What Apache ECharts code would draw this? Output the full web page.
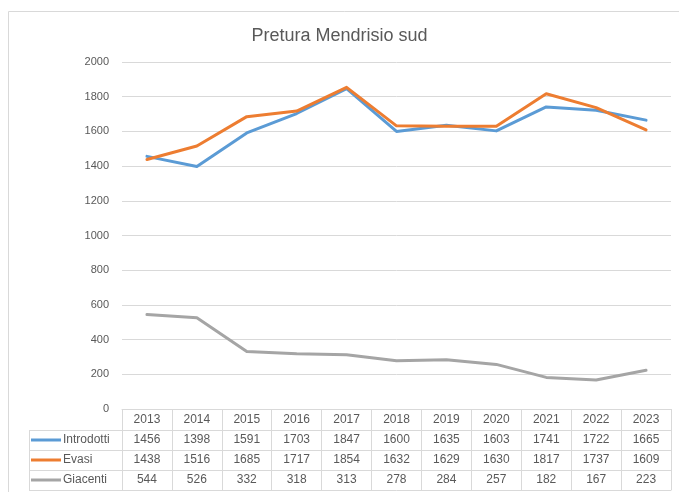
<!DOCTYPE html>
<html>
<head>
<meta charset="utf-8">
<script src="https://cdn.jsdelivr.net/npm/echarts@6/dist/echarts.min.js"></script>
<style>
html,body{margin:0;padding:0;background:#fff;}
#chart{width:679px;height:492px;}
</style>
</head>
<body>
<div id="chart"></div>
<script>
const title = 'Pretura Mendrisio sud';
const years = ['2013','2014','2015','2016','2017','2018','2019','2020','2021','2022','2023'];
const introdotti = [1456,1398,1591,1703,1847,1600,1635,1603,1741,1722,1665];
const evasi = [1438,1516,1685,1717,1854,1632,1629,1630,1817,1737,1609];
const giacenti = [544,526,332,318,313,278,284,257,182,167,223];
const seriesNames = ['Introdotti','Evasi','Giacenti'];
const colors = ['#5B9BD5','#ED7D31','#A5A5A5'];

const FONT = '"Liberation Sans", Arial, sans-serif';
const TXT = '#595959';
const LINE = '#d9d9d9';

const chart = echarts.init(document.getElementById('chart'));
const values = [introdotti, evasi, giacenti];

function rowAxis(offset){
  return {
    type:'category', gridIndex:0, position:'bottom', offset:offset,
    data: years, boundaryGap:true,
    axisLine:{show:true, lineStyle:{color:LINE, width:1}},
    axisTick:{show:false}, axisLabel:{show:false}, splitLine:{show:false}
  };
}

chart.setOption({
  animation:false,
  color: colors,
  textStyle:{fontFamily:FONT},
  title:{
    text:title, left:'center', top:22,
    textStyle:{fontFamily:FONT, fontSize:18, fontWeight:'normal', color:TXT}
  },
  legend:{
    orient:'vertical', left:31, top:430, padding:0, itemGap:0,
    icon:'rect', itemWidth:30, itemHeight:3,
    selectedMode:false,
    textStyle:{fontFamily:FONT, fontSize:12, color:TXT, lineHeight:20, height:20, padding:[0,0,0,-3]},
    data: seriesNames
  },
  grid:{left:122, right:8, top:62, bottom:83, containLabel:false},
  xAxis:[
    {
      type:'category', data:years, boundaryGap:true, position:'bottom',
      axisLine:{show:true, lineStyle:{color:LINE, width:1}},
      axisTick:{show:true, interval:0, length:81, lineStyle:{color:LINE}},
      axisLabel:{
        interval:0, margin:1, color:TXT, fontFamily:FONT, fontSize:12, lineHeight:20,
        formatter:function(v, i){
          return v + '\n' + introdotti[i] + '\n' + evasi[i] + '\n' + giacenti[i];
        }
      },
      splitLine:{show:false}
    },
    rowAxis(21), rowAxis(41), rowAxis(61), rowAxis(81)
  ],
  yAxis:{
    type:'value', min:0, max:2000, interval:200,
    axisLine:{show:false}, axisTick:{show:false},
    axisLabel:{color:TXT, fontFamily:FONT, fontSize:11, margin:13, formatter:function(v){ return String(v); }},
    splitLine:{lineStyle:{color:LINE, width:1}}
  },
  graphic:[
    {type:'rect', shape:{x:8.5, y:11.5, width:700, height:600}, style:{fill:'none', stroke:LINE, lineWidth:1}, silent:true, z:-10},
    {type:'line', shape:{x1:29.5, y1:430, x2:29.5, y2:491}, style:{stroke:LINE, lineWidth:1}, silent:true},
    {type:'line', shape:{x1:29, y1:430.5, x2:122, y2:430.5}, style:{stroke:LINE, lineWidth:1}, silent:true},
    {type:'line', shape:{x1:29, y1:450.5, x2:122, y2:450.5}, style:{stroke:LINE, lineWidth:1}, silent:true},
    {type:'line', shape:{x1:29, y1:470.5, x2:122, y2:470.5}, style:{stroke:LINE, lineWidth:1}, silent:true},
    {type:'line', shape:{x1:29, y1:490.5, x2:122, y2:490.5}, style:{stroke:LINE, lineWidth:1}, silent:true}
  ],
  series: seriesNames.map(function(n, k){
    return {
      name:n, type:'line', data: values[k], xAxisIndex:0,
      symbol:'none', smooth:false,
      lineStyle:{width:3, color:colors[k], join:'round', cap:'round'},
      itemStyle:{color:colors[k]}
    };
  })
});
</script>
</body>
</html>
